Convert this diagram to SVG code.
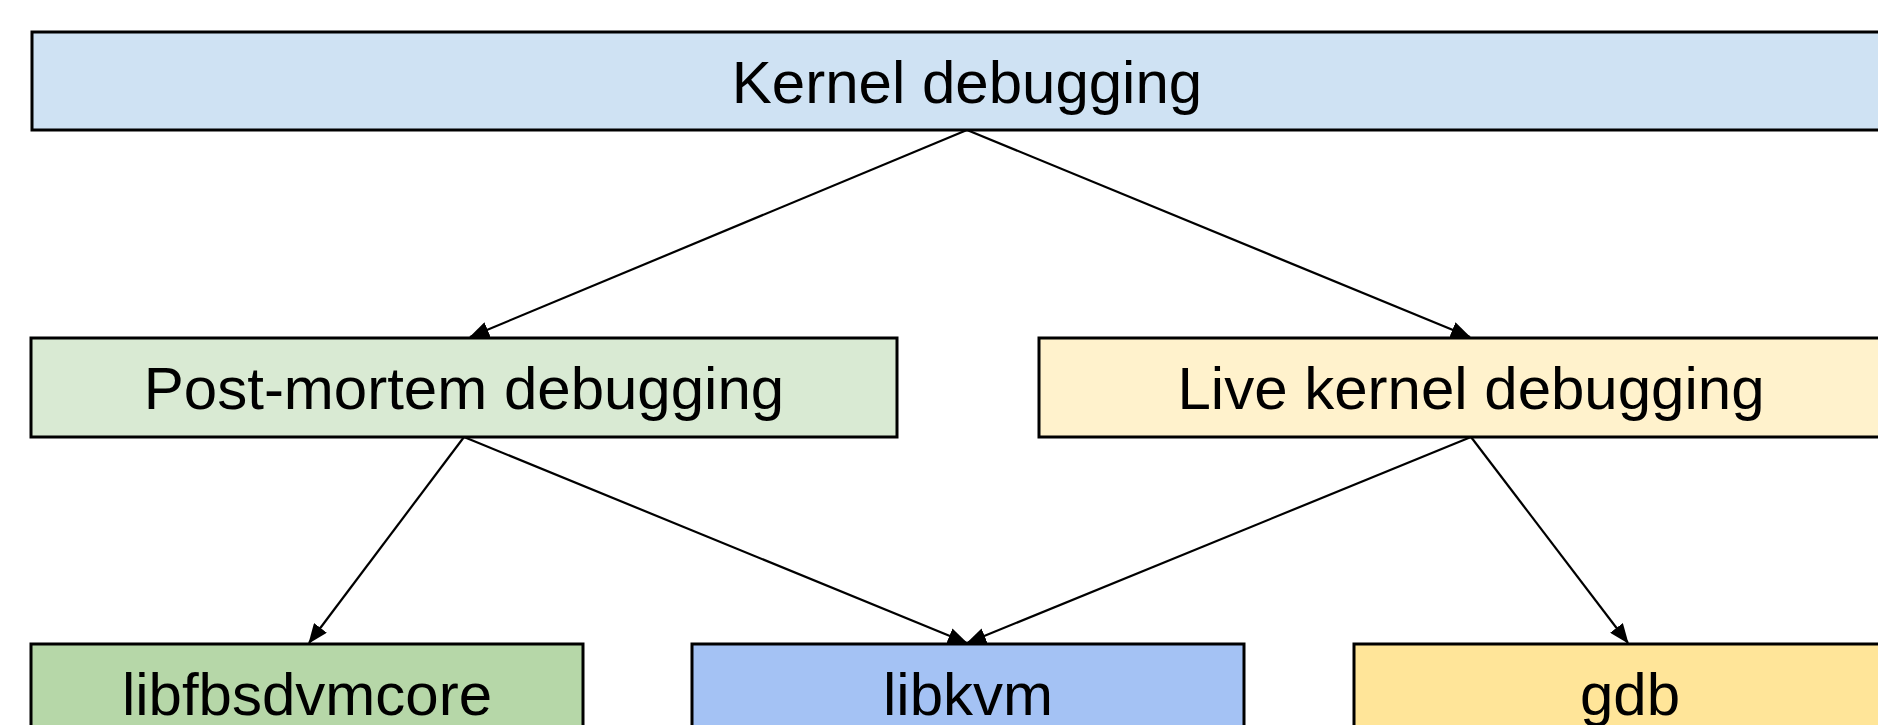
<svg xmlns="http://www.w3.org/2000/svg" width="1878" height="725" viewBox="0 0 1878 725">
<style>
.box{stroke:#000;stroke-width:3}
.lbl{font-family:"Liberation Sans",Arial,sans-serif;font-size:60px;fill:#000;text-anchor:middle}
.edge{stroke:#000;stroke-width:2.2;fill:none}
</style>
<defs>
<marker id="arr" markerUnits="userSpaceOnUse" markerWidth="20" markerHeight="16" refX="19" refY="8" orient="auto">
<path d="M0,0 L20,8 L0,16 Z" fill="#000"/>
</marker>
</defs>
<g id="connectors">
<line class="edge" x1="967" y1="130" x2="470" y2="337" marker-end="url(#arr)"/>
<line class="edge" x1="967" y1="130" x2="1470" y2="337" marker-end="url(#arr)"/>
<line class="edge" x1="464" y1="437" x2="309" y2="643" marker-end="url(#arr)"/>
<line class="edge" x1="464" y1="437" x2="967" y2="643" marker-end="url(#arr)"/>
<line class="edge" x1="1471" y1="437" x2="967" y2="643" marker-end="url(#arr)"/>
<line class="edge" x1="1471" y1="437" x2="1628" y2="643" marker-end="url(#arr)"/>
</g>
<g id="kernel-debugging">
<rect class="box" x="32" y="32" width="1870" height="98" fill="#cfe2f3"/>
<text class="lbl" x="967" y="103">Kernel debugging</text>
</g>
<g id="post-mortem">
<rect class="box" x="31" y="338" width="866" height="99" fill="#d9ead3"/>
<text class="lbl" x="464" y="409">Post-mortem debugging</text>
</g>
<g id="live-kernel">
<rect class="box" x="1039" y="338" width="864" height="99" fill="#fff2cc"/>
<text class="lbl" x="1471" y="409">Live kernel debugging</text>
</g>
<g id="libfbsdvmcore">
<rect class="box" x="31" y="644" width="552" height="98" fill="#b6d7a8"/>
<text class="lbl" x="307" y="715">libfbsdvmcore</text>
</g>
<g id="libkvm">
<rect class="box" x="692" y="644" width="552" height="98" fill="#a4c2f4"/>
<text class="lbl" x="968" y="715">libkvm</text>
</g>
<g id="gdb">
<rect class="box" x="1354" y="644" width="552" height="98" fill="#ffe599"/>
<text class="lbl" x="1630" y="715">gdb</text>
</g>
</svg>
